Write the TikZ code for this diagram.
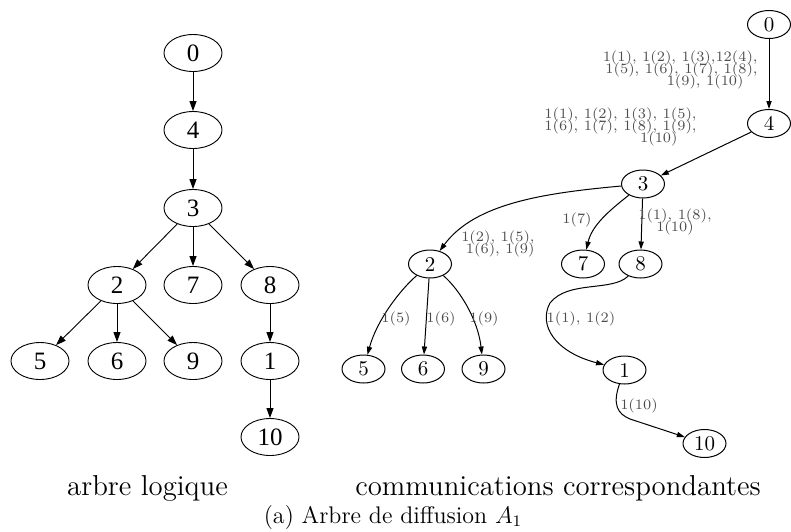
\documentclass[tikz,border=0pt]{standalone}
\usepackage{fontspec}
\newfontfamily\timesfont{Liberation Serif}
\usetikzlibrary{arrows.meta,shapes.geometric}
\definecolor{labgray}{gray}{0.3}
\newcommand\labfont{\fontsize{7.2}{5.9}\selectfont\lineskiplimit=-20pt\relax}
\begin{document}
\begin{tikzpicture}[x=0.5pt,y=-0.5pt,
 lnode/.style={draw,ellipse,line width=0.45pt,minimum width=29pt,minimum height=18.5pt,inner sep=0pt,font=\timesfont\fontsize{12.5}{14}\selectfont},
 rnode/.style={draw,ellipse,line width=0.5pt,minimum width=21.5pt,minimum height=14pt,inner sep=0pt,font=\fontsize{10.5}{12}\selectfont},
 larr/.style={-{Triangle[length=5pt,width=3.5pt]},line width=0.45pt},
 rarr/.style={-{Triangle[length=4pt,width=2.6pt]},line width=0.5pt},
 elab/.style={text=labgray,inner sep=0pt,font={\labfont}},
 captext/.style={anchor=base,inner sep=0pt}]
\useasboundingbox (0,0) rectangle (791,531);
% left tree
\node[lnode] (a0) at (193,53) {0};
\node[lnode] (a4) at (193,130) {4};
\node[lnode] (a3) at (193,208) {3};
\node[lnode] (a2) at (117,285) {2};
\node[lnode] (a7) at (193,285) {7};
\node[lnode] (a8) at (270,285) {8};
\node[lnode] (a5) at (40,361) {5};
\node[lnode] (a6) at (117,361) {6};
\node[lnode] (a9) at (193,361) {9};
\node[lnode] (a1) at (270,361) {1};
\node[lnode] (a10) at (270,437) {10};
\draw[larr] (a0) -- (a4);
\draw[larr] (a4) -- (a3);
\draw[larr] (a3) -- (a2);
\draw[larr] (a3) -- (a7);
\draw[larr] (a3) -- (a8);
\draw[larr] (a2) -- (a5);
\draw[larr] (a2) -- (a6);
\draw[larr] (a2) -- (a9);
\draw[larr] (a8) -- (a1);
\draw[larr] (a1) -- (a10);
% right tree
\node[rnode] (b0) at (769,24.5) {0};
\node[rnode] (b4) at (769,123.5) {4};
\node[rnode] (b3) at (643,184) {3};
\node[rnode] (b2) at (430,264) {2};
\node[rnode] (b7) at (583,264) {7};
\node[rnode] (b8) at (640.5,264) {8};
\node[rnode] (b5) at (363.5,369) {5};
\node[rnode] (b6) at (423,369) {6};
\node[rnode] (b9) at (483.5,369) {9};
\node[rnode] (b1) at (624.5,370) {1};
\node[rnode] (b10) at (704.5,443.5) {10};
\draw[rarr] (b0) -- (b4);
\draw[rarr] (b4) -- (b3);
\draw[rarr] (b3) .. controls (545,193) and (475,203) .. (b2);
\draw[rarr] (b3) .. controls (610,210) and (592,225) .. (b7);
\draw[rarr] (b3) -- (b8);
\draw[rarr] (b2) .. controls (400,290) and (377,320) .. (b5);
\draw[rarr] (b2) -- (b6);
\draw[rarr] (b2) .. controls (460,290) and (478,320) .. (b9);
\draw[rarr] (b8) .. controls (612,292) and (568,280) .. (550,303) .. controls (538,325) and (555,352) .. (b1);
\draw[rarr] (b1) .. controls (612,405) and (618,414) .. (630,419) -- (b10);
% edge labels
\node[elab,align=right,anchor=east] (l04) at (758,70) {1(1), 1(2), 1(3),12(4),\\1(5), 1(6), 1(7), 1(8),\\1(9), 1(10)\hspace*{7pt}};
\node[elab,align=right,anchor=east] (l43) at (697,127) {1(1), 1(2), 1(3), 1(5),\\1(6), 1(7), 1(8), 1(9),\\1(10)\hspace*{9.5pt}};
\node[elab,align=right,anchor=east] (l32) at (535,244) {1(2), 1(5),\\1(6), 1(9)};
\node[elab] (l37) at (577,220) {1(7)};
\node[elab,align=center] (l38) at (675,221.5) {1(1), 1(8),\\1(10)};
\node[elab] (l25) at (396,319) {1(5)};
\node[elab] (l26) at (441,319) {1(6)};
\node[elab] (l29) at (484,319) {1(9)};
\node[elab] (l81) at (581,319) {1(1), 1(2)};
\node[elab] (l110) at (639,406) {1(10)};
% captions
\node[captext,font=\fontsize{14.4}{16}\selectfont] (c1) at (147.5,495) {arbre logique};
\node[captext,font=\fontsize{14.4}{16}\selectfont] (c2) at (558,495) {communications correspondantes};
\node[captext,font=\fontsize{12}{14}\selectfont] (c3) at (393,523) {(a) Arbre de diffusion $A_1$};
\end{tikzpicture}
\end{document}
